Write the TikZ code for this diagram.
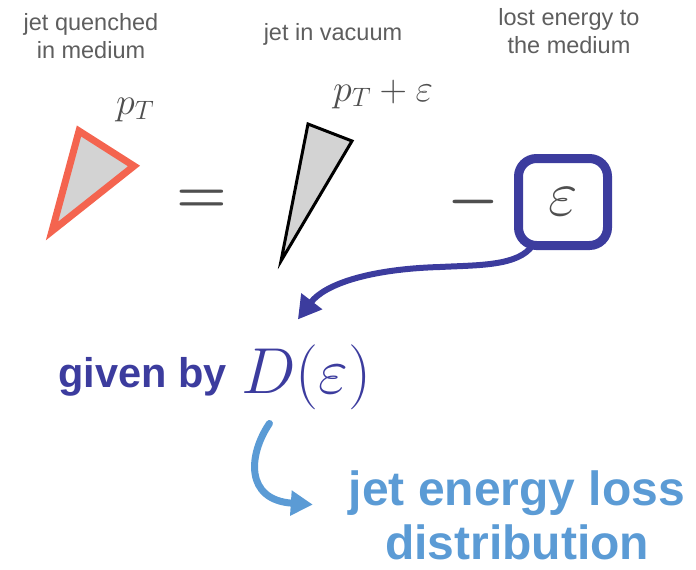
\documentclass[tikz,border=0pt]{standalone}
\usepackage{fix-cm}
\usepackage[no-math]{fontspec}
\setmainfont{Liberation Sans}
\usetikzlibrary{arrows.meta}
\definecolor{labelgray}{HTML}{5E5E5E}
\definecolor{mathgray}{HTML}{4F4F4F}
\definecolor{jetred}{HTML}{F4644F}
\definecolor{conegray}{HTML}{D3D3D3}
\definecolor{lossblue}{HTML}{3C3C9E}
\definecolor{distblue}{HTML}{5B9BD5}

\begin{document}
\begin{tikzpicture}[x=1pt,y=-1pt,
    toplabel/.style={text=labelgray, align=center, inner sep=0pt, font=\fontsize{23.5}{28}\selectfont},
    mathlabel/.style={text=mathgray, inner sep=0pt, anchor=base west, font=\fontsize{38}{44}\selectfont},
    opsign/.style={text=mathgray, inner sep=0pt, font=\fontsize{58}{60}\selectfont\boldmath},
    cone/.style={fill=conegray, line join=miter},
    bigarrow/.style={line width=6pt, line cap=round}]
    \useasboundingbox (0,0) rectangle (696,570);

    % Headings
    \node[toplabel] (quenched) at (91,36) {jet quenched\\in medium};
    \node[toplabel] (vacuum) at (333,34) {jet in vacuum};
    \node[toplabel] (lost) at (569,31) {lost energy to\\the medium};

    % Momentum labels
    \node[mathlabel] (pt) at (116,114) {$p_T$};
    \node[mathlabel] (pteps) at (333,101) {$p_T+\varepsilon$};

    % Jet cones
    \draw[cone, draw=jetred, line width=7pt] (79,131) -- (134,166) -- (52,231) -- cycle;
    \draw[cone, draw=black, line width=3pt] (308,124) -- (352,141) -- (281,261) -- cycle;

    % Equation signs
    \node[opsign] (equal) at (202,201) {$=$};
    \node[opsign] (minus) at (473,202) {$-$};

    % Lost energy box
    \node[draw=lossblue, line width=9pt, rounded corners=18pt, minimum width=89pt, minimum height=87pt,
          outer sep=0pt, text=mathgray, font=\fontsize{64}{64}\selectfont] (epsbox) at (563,202) {$\varepsilon$};

    % Distribution
    \node[text=lossblue, font=\fontsize{41.5}{48}\selectfont\bfseries, anchor=base west, inner sep=0pt] (given) at (58,387) {given by};
    \node[text=lossblue, font=\fontsize{65}{70}\selectfont, anchor=base west, inner sep=0pt] (Deps) at (241,393) {$D(\varepsilon)$};
    \node[text=distblue, font=\fontsize{48}{54}\selectfont\bfseries, align=center, inner sep=0pt, anchor=north] (eloss) at (517,471) {jet energy loss\\distribution};

    % Arrows
    \draw[bigarrow, lossblue, -{Triangle[length=23pt,width=25pt]}, shorten >=31pt]
      (epsbox.235) .. controls (518,266) and (480,265) .. (440,267)
      .. controls (370,269) and (325,284) .. (Deps.130);
    \draw[bigarrow, line width=7pt, distblue, -{Triangle[length=22pt,width=24pt]}, shorten <=17pt, shorten >=36pt]
      (Deps.-130) .. controls (248,455) and (245,500) .. (eloss.177);
\end{tikzpicture}
\end{document}
